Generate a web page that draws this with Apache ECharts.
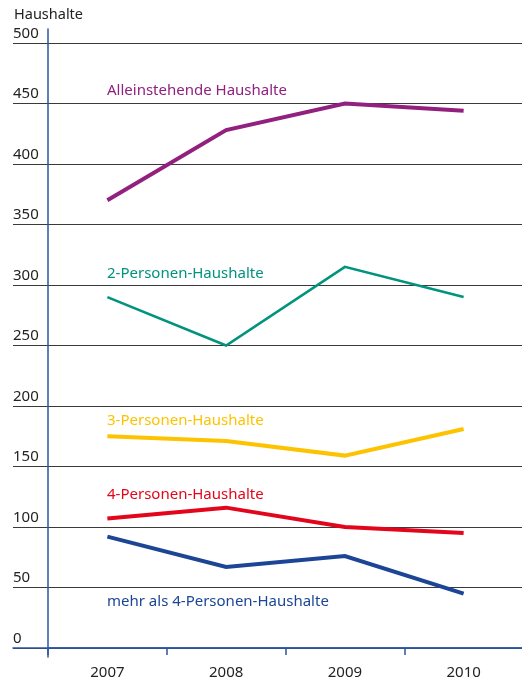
<!DOCTYPE html>
<html>
<head>
<meta charset="utf-8">
<script src="https://cdn.jsdelivr.net/npm/echarts@6/dist/echarts.min.js"></script>
<style>
  html, body { margin: 0; padding: 0; background: #fff; }
  #chart { width: 522px; height: 680px; }
</style>
</head>
<body>
<div id="chart"></div>
<script>
// Household counts by household size, 2007–2010
const years = ['2007', '2008', '2009', '2010'];
const alleinstehend = [370, 428, 450, 444];
const zweiPersonen = [290, 250, 315, 290];
const dreiPersonen = [175, 171, 159, 181];
const vierPersonen = [107, 116, 100, 95];
const mehrAlsVier = [92, 67, 76, 45];
const seriesNames = [
  'Alleinstehende Haushalte',
  '2-Personen-Haushalte',
  '3-Personen-Haushalte',
  '4-Personen-Haushalte',
  'mehr als 4-Personen-Haushalte'
];
const yMin = 0, yMax = 500, yStep = 50;

const FONT = '"Noto Sans", "Open Sans", sans-serif';
const FONT_SIZE = 15;
const AXIS_BLUE = '#2c55a0';
const colors = ['#92207f', '#00937d', '#fdc300', '#e3051b', '#1c4595'];
const widths = [4, 2.6, 4, 4, 4];
const values = [alleinstehend, zweiPersonen, dreiPersonen, vierPersonen, mehrAlsVier];
// vertical centre of each series caption
const captionY = [91, 274, 421, 495, 602];

// plot area geometry (px)
const plotTop = 43, plotBottom = 32;
const pxPerUnit = (680 - plotTop - plotBottom) / (yMax - yMin);
const overhangTop = 14, overhangBottom = 9;

const chart = echarts.init(document.getElementById('chart'), null, { renderer: 'canvas' });

chart.setOption({
  animation: false,
  backgroundColor: '#fff',
  title: {
    text: 'Haushalte',
    left: 9, top: 2,
    textStyle: { fontFamily: FONT, fontSize: 14.5, fontWeight: 'normal', color: '#222' }
  },
  grid: [
    // wide grid carrying the horizontal rules and value labels
    { left: 13, right: 0, top: plotTop, bottom: plotBottom, outerBoundsMode: 'none', containLabel: false },
    // plotting grid, starting at the vertical axis, which overhangs the rules
    {
      left: 48, width: 475,
      top: plotTop - overhangTop, bottom: plotBottom - overhangBottom,
      outerBoundsMode: 'none', containLabel: false
    }
  ],
  xAxis: [
    {
      gridIndex: 0, type: 'value', min: 0, max: 1, z: 3,
      axisLine: { show: true, lineStyle: { color: AXIS_BLUE, width: 1.5 } },
      axisTick: { show: false }, axisLabel: { show: false }, splitLine: { show: false }
    },
    {
      gridIndex: 1, type: 'category', data: years, boundaryGap: true, z: 3,
      position: 'bottom', offset: -overhangBottom,
      axisLine: { show: true, onZero: false, lineStyle: { color: AXIS_BLUE, width: 1.5 } },
      axisTick: { show: true, length: 7, lineStyle: { color: AXIS_BLUE, width: 1.5 } },
      axisLabel: { margin: 17, fontFamily: FONT, fontSize: FONT_SIZE, color: '#222' },
      splitLine: { show: false }
    }
  ],
  yAxis: [
    {
      gridIndex: 0, type: 'value', min: yMin, max: yMax, interval: yStep,
      axisLine: { show: false }, axisTick: { show: false },
      axisLabel: {
        inside: true, margin: 0, align: 'left', verticalAlign: 'bottom',
        padding: [0, 0, 2, 0],
        fontFamily: FONT, fontSize: FONT_SIZE, color: '#222'
      },
      splitLine: { show: true, lineStyle: { color: '#3a3a3a', width: 1 } }
    },
    {
      gridIndex: 1, type: 'value',
      min: yMin - overhangBottom / pxPerUnit,
      max: yMax + overhangTop / pxPerUnit,
      axisLine: { show: true, onZero: false, lineStyle: { color: AXIS_BLUE, width: 1.5 } },
      axisTick: { show: false }, axisLabel: { show: false }, splitLine: { show: false }
    }
  ],
  series: values.map((v, i) => ({
    name: seriesNames[i],
    type: 'line',
    xAxisIndex: 1, yAxisIndex: 1,
    data: v,
    symbol: 'none',
    z: 5,
    lineStyle: { color: colors[i], width: widths[i], cap: 'butt', join: 'miter' }
  })),
  graphic: seriesNames.map((name, i) => ({
    type: 'text',
    x: 107, y: captionY[i],
    z: 10,
    style: {
      text: name,
      fill: colors[i],
      font: FONT_SIZE + 'px ' + FONT,
      verticalAlign: 'middle',
      textVerticalAlign: 'middle'
    }
  }))
});
</script>
</body>
</html>
